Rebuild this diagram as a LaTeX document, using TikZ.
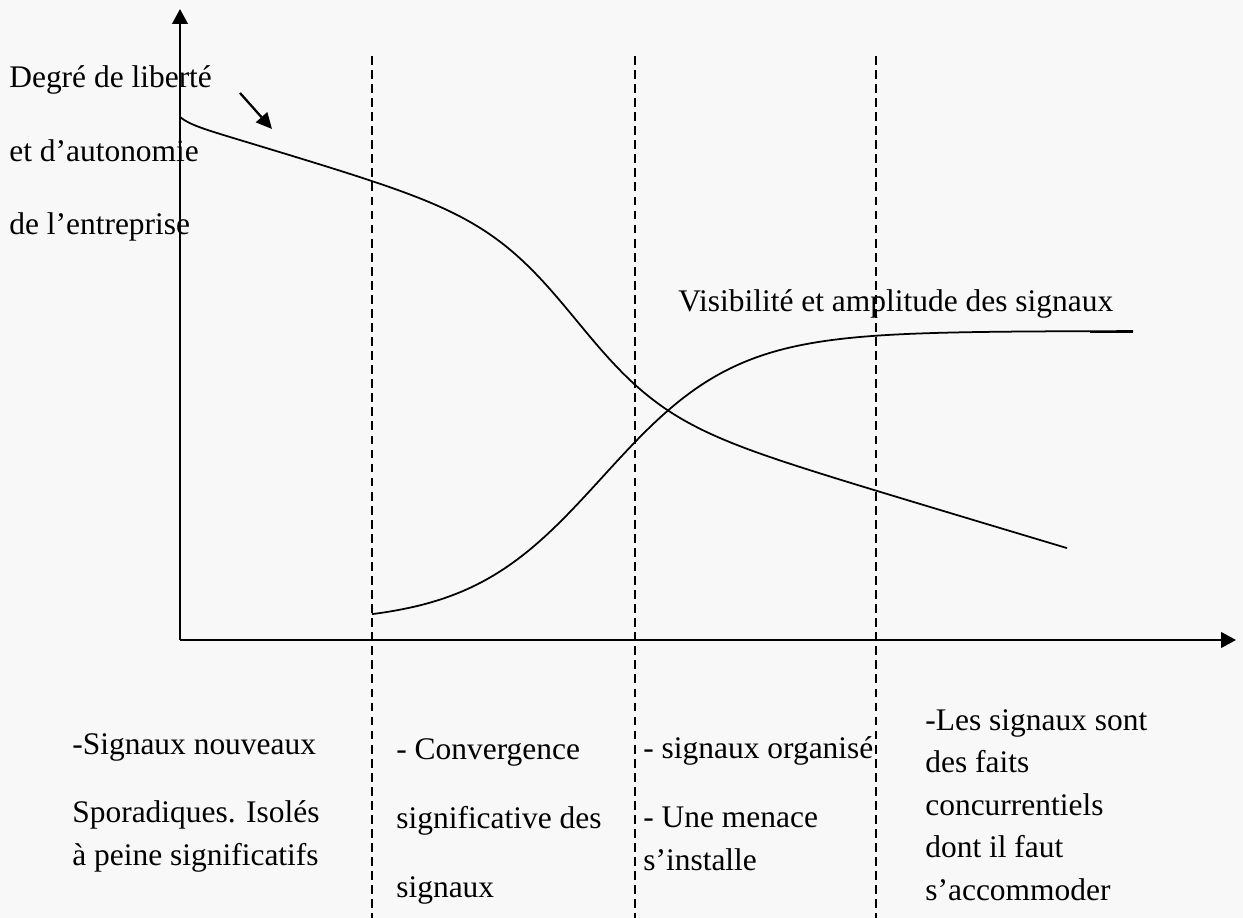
\documentclass[tikz,border=0pt]{standalone}
\usepackage{fontspec}
\setmainfont{Liberation Serif}
\usetikzlibrary{arrows.meta}
\definecolor{paper}{RGB}{248,248,248}

\begin{document}
\begin{tikzpicture}[x=0.02cm,y=-0.02cm,line join=round]
  \tikzset{
    axisline/.style={draw=black,line width=1.5pt,-{Triangle[length=8.5pt,width=8.8pt]}},
    phase/.style={draw=black,line width=0.8pt,dash pattern=on 5pt off 3pt},
    courbe/.style={draw=black,line width=1pt},
    txt/.style={anchor=base west,inner sep=0pt,align=left,font=\fontsize{17.9}{24.1}\selectfont}
  }
  \fill[paper] (0,0) rectangle (1243,918);
  \useasboundingbox (0,0) rectangle (1243,918);

  % axes
  \coordinate (origin) at (180,640);
  \coordinate (ytop) at (180,9);
  \coordinate (xend) at (1236,640);
  \draw[axisline] (origin) -- (ytop);
  \draw[axisline] (origin) -- (xend);

  % phase limits
  \foreach \x in {372,635,876}
    \draw[phase] (\x,56) -- (\x,918);

  % freedom of the firm, falling (line + step)
  \draw[courbe] plot[domain=180:1067,samples=220,smooth,variable=\t]
    ({\t},{117+0.3*(\t-180)+160/(1+exp(-(\t-577)/44))+5*(1-exp(-(\t-180)/10))});
  % signals, rising to a plateau
  \draw[courbe] plot[domain=372:1133,samples=220,smooth,variable=\t]
    ({\t},{331+292/(1+exp((\t-602.5)/66.6))});
  \draw[line width=1.6pt] (1090,332) -- (1133,332);

  % small arrow on the falling curve
  \coordinate (arrA) at (240,93);
  \coordinate (arrB) at (272,129);
  \draw[line width=1.3pt,-{Triangle[length=9pt,width=8.5pt]}] (arrA) -- (arrB);

  % labels (placed at the baseline of their last line)
  \node[txt] (liberte) at (9,235) {Degré de liberté\\[18.3pt]et d’autonomie\\[17.5pt]de l’entreprise};
  \node[txt] (visib) at (678,312) {Visibilité et amplitude des signaux};

  \node[txt] (phaseA) at (72,865) {-Signaux nouveaux\\[14.5pt]Sporadiques. Isolés\\à peine significatifs};
  \node[txt] (phaseB) at (396,897) {- Convergence\\[15pt]significative des\\[15pt]signaux};
  \node[txt] (phaseC) at (643,870) {- signaux organisé\\[15pt]- Une menace\\s’installe};
  \node[txt] (phaseD) at (925,900) {-Les signaux sont\\des faits\\concurrentiels\\dont il faut\\s’accommoder};
\end{tikzpicture}
\end{document}
